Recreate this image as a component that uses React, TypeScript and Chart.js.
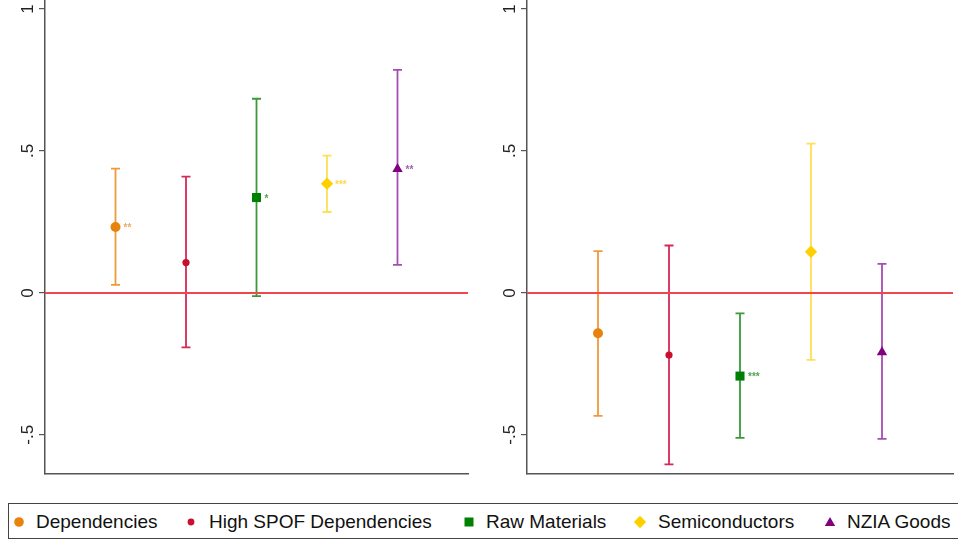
import React, { useEffect, useRef } from "react";
import { Chart, registerables } from "chart.js";

Chart.register(...registerables);

// ---------- data ----------
const categories = ["Dependencies", "High SPOF Dependencies", "Raw Materials", "Semiconductors", "NZIA Goods"];
const categoryX = [1, 2, 3, 4, 5];

const leftEstimates = [0.232, 0.107, 0.336, 0.385, 0.437];
const leftLower = [0.028, -0.192, -0.011, 0.285, 0.099];
const leftUpper = [0.438, 0.41, 0.684, 0.484, 0.786];
const leftStars = ["**", "", "*", "***", "**"];

const rightEstimates = [-0.142, -0.219, -0.293, 0.145, -0.209];
const rightLower = [-0.433, -0.604, -0.511, -0.236, -0.514];
const rightUpper = [0.147, 0.167, -0.072, 0.526, 0.102];
const rightStars = ["", "", "***", "", ""];

const yTickValues = [-0.5, 0, 0.5, 1];
const yTickLabels = ["-.5", "0", ".5", "1"];

// ---------- styles ----------
const markerColors = ["#E8820C", "#C8102E", "#008000", "#FFD000", "#800080"];
const lineColors = ["#EE9A3A", "#D42A56", "#3A9A3A", "#FFDF55", "#A54DB3"];
const starColors = ["#F0A860", "#D85A7A", "#4FA84F", "#FFD84A", "#A060B0"];
const pointStyles = ["circle", "circle", "rect", "rectRot", "triangle"];
const pointRadii = [5, 3.6, 6.4, 6.2, 6];
const FONT = "'Liberation Sans', Arial, Helvetica, sans-serif";

const errorBarPlugin = {
  id: "errorBars",
  beforeDatasetsDraw(chart: any, _args: any, opts: any) {
    const { ctx } = chart;
    const xs = chart.scales.x;
    const ys = chart.scales.y;
    ctx.save();
    opts.lower.forEach((lo: number, i: number) => {
      const hi = opts.upper[i];
      const px = xs.getPixelForValue(categoryX[i]);
      const pLo = ys.getPixelForValue(lo);
      const pHi = ys.getPixelForValue(hi);
      ctx.strokeStyle = lineColors[i];
      ctx.lineWidth = 1.8;
      ctx.beginPath();
      ctx.moveTo(px, pHi);
      ctx.lineTo(px, pLo);
      ctx.moveTo(px - 4.5, pHi);
      ctx.lineTo(px + 4.5, pHi);
      ctx.moveTo(px - 4.5, pLo);
      ctx.lineTo(px + 4.5, pLo);
      ctx.stroke();
    });
    ctx.restore();
  },
  afterDatasetsDraw(chart: any, _args: any, opts: any) {
    const { ctx } = chart;
    const xs = chart.scales.x;
    const ys = chart.scales.y;
    ctx.save();
    ctx.font = "bold 10px " + FONT;
    ctx.textAlign = "left";
    ctx.textBaseline = "middle";
    opts.stars.forEach((s: string, i: number) => {
      if (!s) return;
      const px = xs.getPixelForValue(categoryX[i]);
      const py = ys.getPixelForValue(opts.estimates[i]);
      ctx.fillStyle = starColors[i];
      ctx.fillText(s, px + 8, py + 1.5);
    });
    ctx.restore();
  },
  afterDraw(chart: any) {
    const { ctx } = chart;
    const ys = chart.scales.y;
    ctx.save();
    ctx.font = "17px " + FONT;
    ctx.fillStyle = "#222";
    ctx.textAlign = "center";
    ctx.textBaseline = "middle";
    yTickValues.forEach((v, i) => {
      const py = ys.getPixelForValue(v);
      ctx.save();
      ctx.translate(ys.right - 17, py);
      ctx.rotate(-Math.PI / 2);
      ctx.fillText(yTickLabels[i], 0, 0);
      ctx.restore();
    });
    ctx.restore();
  },
};

function makeConfig(estimates: number[], lower: number[], upper: number[], stars: string[], axisWidth: number, padRight: number) {
  const datasets: any[] = categories.map((c, i) => ({
    type: "scatter",
    label: c,
    data: [{ x: categoryX[i], y: estimates[i] }],
    pointStyle: pointStyles[i],
    pointRadius: pointRadii[i],
    pointBackgroundColor: markerColors[i],
    pointBorderColor: markerColors[i],
    pointBorderWidth: 0,
    order: 1,
  }));
  datasets.push({
    type: "line",
    label: "zero",
    data: [
      { x: 0, y: 0 },
      { x: 6, y: 0 },
    ],
    borderColor: "#F0474C",
    borderWidth: 2,
    pointRadius: 0,
    order: 10,
  });
  return {
    type: "scatter",
    data: { datasets },
    plugins: [errorBarPlugin],
    options: {
      animation: false,
      responsive: false,
      events: [],
      layout: { autoPadding: false, padding: { left: 0, right: padRight, top: 0, bottom: 2 } },
      plugins: {
        legend: { display: false },
        tooltip: { enabled: false },
        errorBars: { lower, upper, stars, estimates },
      },
      scales: {
        x: {
          type: "linear",
          min: 0,
          max: 6,
          ticks: { display: false },
          grid: { display: false },
          border: { display: true, color: "#555", width: 1.5 },
          afterFit: (s: any) => {
            s.height = 0;
          },
        },
        y: {
          type: "linear",
          min: -0.638,
          max: 1.032,
          ticks: { display: false },
          grid: { display: true, drawOnChartArea: false, drawTicks: true, tickLength: 6, color: "#555", lineWidth: 1.2 },
          border: { display: true, color: "#555", width: 1.5 },
          afterBuildTicks: (s: any) => {
            s.ticks = yTickValues.map((v) => ({ value: v }));
          },
          afterFit: (s: any) => {
            s.width = axisWidth;
          },
        },
      },
    },
  };
}

function Panel(props: { left: number; width: number; height: number; config: any }) {
  const ref = useRef<HTMLCanvasElement>(null);
  useEffect(() => {
    const chart = new Chart(ref.current as HTMLCanvasElement, props.config);
    return () => chart.destroy();
  }, []);
  return (
    <canvas
      ref={ref}
      width={props.width}
      height={props.height}
      style={{ position: "absolute", left: props.left, top: 0, width: props.width, height: props.height }}
    />
  );
}

function LegendMarker({ i }: { i: number }) {
  const c = markerColors[i];
  let shape: any;
  if (i === 0) shape = <circle cx="7" cy="7" r="4.8" fill={c} />;
  else if (i === 1) shape = <circle cx="7" cy="7" r="3.4" fill={c} />;
  else if (i === 2) shape = <rect x="2.5" y="2.5" width="9" height="9" fill={c} />;
  else if (i === 3) shape = <polygon points="7,0.8 13.2,7 7,13.2 0.8,7" fill={c} />;
  else shape = <polygon points="7,2 12.2,11 1.8,11" fill={c} />;
  return (
    <svg width="14" height="14" style={{ display: "block" }}>
      {shape}
    </svg>
  );
}

const legendMarkerX = [19, 191, 469, 640, 830];
const legendTextX = [36, 209, 486, 658, 847];

export default function App() {
  const leftCfg = makeConfig(leftEstimates, leftLower, leftUpper, leftStars, 45, 11);
  const rightCfg = makeConfig(rightEstimates, rightLower, rightUpper, rightStars, 47, 5);
  return (
    <div style={{ position: "absolute", left: 0, top: 0, width: 958, height: 542, overflow: "hidden", background: "#fff" }}>
      <Panel left={0} width={479} height={476} config={leftCfg} />
      <Panel left={480} width={478} height={476} config={rightCfg} />
      <div
        style={{
          position: "absolute",
          left: 8,
          top: 503,
          width: 970,
          height: 36,
          border: "1.5px solid #444",
          boxSizing: "border-box",
        }}
      />
      {categories.map((c, i) => (
        <React.Fragment key={c}>
          <div style={{ position: "absolute", left: legendMarkerX[i] - 7, top: 522 - 7 }}>
            <LegendMarker i={i} />
          </div>
          <div
            style={{
              position: "absolute",
              left: legendTextX[i],
              top: 510,
              height: 24,
              lineHeight: "24px",
              fontFamily: FONT,
              fontSize: 19,
              color: "#111",
              whiteSpace: "nowrap",
            }}
          >
            {c}
          </div>
        </React.Fragment>
      ))}
    </div>
  );
}
